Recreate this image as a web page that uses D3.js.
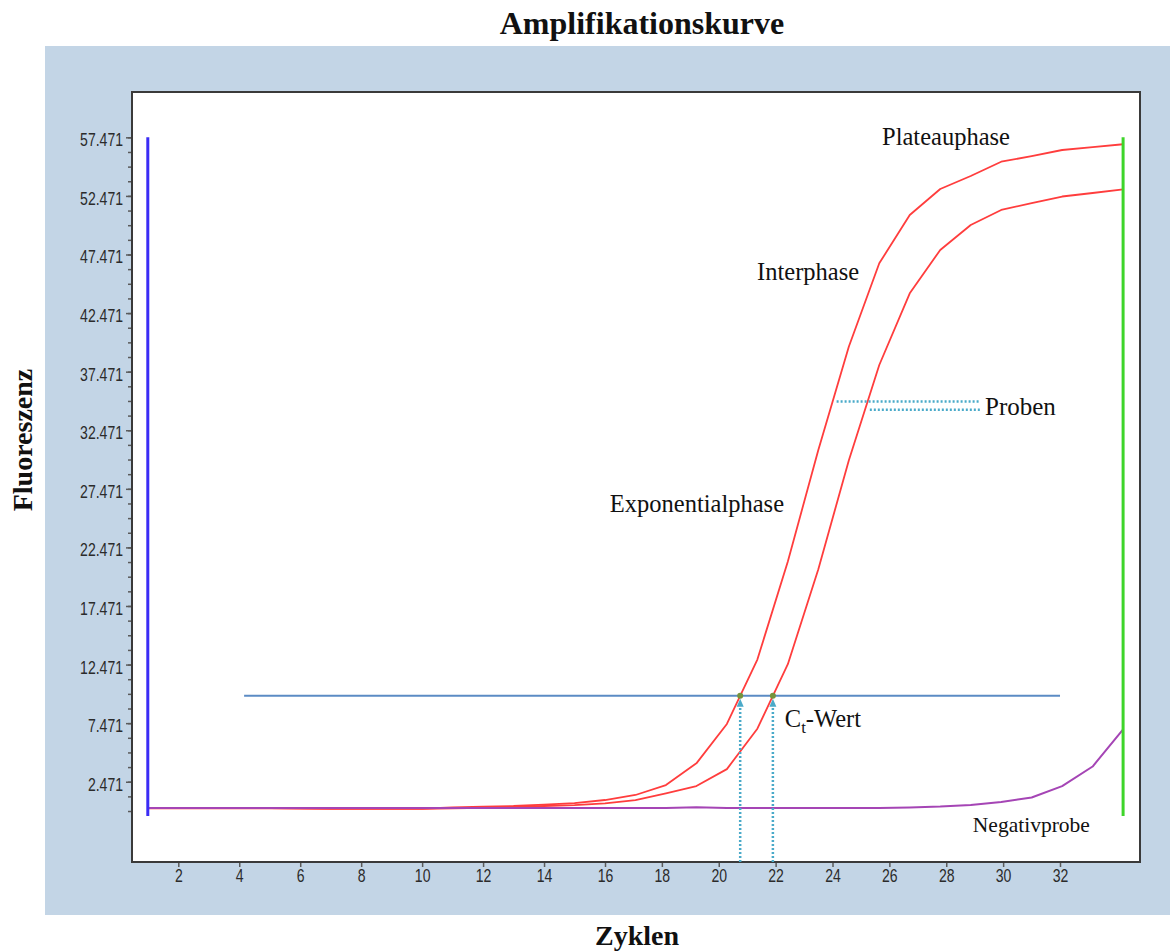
<!DOCTYPE html>
<html>
<head>
<meta charset="utf-8">
<script src="https://cdn.jsdelivr.net/npm/d3@7"></script>
<style>
  html, body { margin: 0; padding: 0; background: #ffffff; }
  svg { display: block; }
  .tick-label { font-family: "Liberation Sans", Arial, sans-serif; font-size: 18px; fill: #2b2b2b; }
  .serif { font-family: "Liberation Serif", "Times New Roman", serif; fill: #111111; }
</style>
</head>
<body>
<svg id="chart" width="1170" height="951"></svg>
<script>
// Cycle numbers of the run
const cycles = [1, 2, 3, 4, 5, 6, 7, 8, 9, 10, 11, 12, 13, 14, 15, 16, 17,
                18, 19, 20, 21, 22, 23, 24, 25, 26, 27, 28, 29, 30, 31, 32, 33];

// Fluorescence of the two samples and the negative control per cycle
const sampleA = [0.23, 0.23, 0.23, 0.23, 0.23, 0.20, 0.17, 0.17, 0.17, 0.17, 0.27,
                 0.35, 0.40, 0.52, 0.65, 0.91, 1.34, 2.19, 4.04, 7.40, 12.90, 21.27,
                 30.78, 39.60, 46.72, 50.84, 53.06, 54.17, 55.39, 55.87, 56.39, 56.64, 56.88];
const sampleB = [0.20, 0.20, 0.20, 0.20, 0.20, 0.17, 0.15, 0.15, 0.15, 0.15, 0.20,
                 0.25, 0.30, 0.40, 0.48, 0.63, 0.91, 1.48, 2.10, 3.55, 7.00, 12.50,
                 20.61, 29.89, 38.04, 44.16, 47.86, 49.99, 51.27, 51.86, 52.42, 52.72, 53.03];
const negative = [0.23, 0.23, 0.23, 0.23, 0.23, 0.23, 0.23, 0.23, 0.23, 0.23, 0.23,
                  0.23, 0.23, 0.23, 0.23, 0.23, 0.23, 0.23, 0.30, 0.22, 0.22, 0.22,
                  0.22, 0.22, 0.22, 0.28, 0.35, 0.48, 0.74, 1.12, 2.10, 3.77, 6.94];

// Threshold level and the cycle span it is drawn over
const threshold = 9.8;
const thresholdSpan = [4.16, 30.93];

// Start / end markers of the run (cycle) and their fluorescence extent
const runMarkers = [1, 33];
const markerExtent = [-0.46, 57.471];

// Axis ticks
const xTickValues = [2, 4, 6, 8, 10, 12, 14, 16, 18, 20, 22, 24, 26, 28, 30, 32];
const yTickValues = [2.471, 7.471, 12.471, 17.471, 22.471, 27.471, 32.471,
                     37.471, 42.471, 47.471, 52.471, 57.471];
const yMinorStep = 1.25;

// Annotations (cycle, fluorescence at text baseline)
const labelTexts = ["Plateauphase", "Interphase", "Exponentialphase", "Proben", "Negativprobe"];
const labelCycles = [25.09, 20.99, 16.16, 28.47, 28.07];
const labelValues = [56.81, 45.29, 25.52, 33.77, -1.80];
const ctLabelAnchor = [21.9, 7.11];

// Leader lines from the sample curves to the "Proben" label
const leaderStart = [23.6, 24.69];
const leaderEnd = [28.3, 28.3];
const leaderValues = [34.93, 34.22];

const svg = d3.select("#chart");

// Grey-blue panel behind the plot
svg.append("rect").attr("x", 45).attr("y", 46).attr("width", 1125).attr("height", 869)
  .attr("fill", "#c3d5e6");

const plot = { left: 132, right: 1140, top: 92, bottom: 862 };

svg.append("rect").attr("x", plot.left).attr("y", plot.top)
  .attr("width", plot.right - plot.left).attr("height", plot.bottom - plot.top)
  .attr("fill", "#ffffff");

// Scales: data cycles are evenly spaced; the printed cycle axis
// is compressed beyond cycle 16
const x = d3.scaleLinear().domain([1, 33]).range([147.8, 1123.1]);
const xAxisScale = d3.scaleLinear().domain([2, 16, 32]).range([178.3, 605, 1060]);
const y = d3.scaleLinear().domain([-4.38, 61.34]).range([plot.bottom, plot.top]);

const narrow = 0.78;

// Y axis: minor ticks then labelled ticks
const yMinor = d3.range(yTickValues[0] - 2 * yMinorStep, yTickValues[yTickValues.length - 1] + 0.01, yMinorStep);
const gyMinor = svg.append("g").attr("transform", `translate(${plot.left},0)`)
  .call(d3.axisLeft(y).tickValues(yMinor).tickSize(4).tickFormat(""));
gyMinor.select(".domain").remove();
gyMinor.selectAll("line").attr("stroke", "#5a5a5a").attr("stroke-width", 1.5);

const gy = svg.append("g").attr("transform", `translate(${plot.left},0)`)
  .call(d3.axisLeft(y).tickValues(yTickValues).tickSize(6).tickPadding(3)
    .tickFormat(d3.format(".3f")));
gy.select(".domain").remove();
gy.selectAll("line").attr("stroke", "#5a5a5a").attr("stroke-width", 1.5);
gy.selectAll("text").attr("class", "tick-label")
  .attr("x", 0).attr("dy", "0.47em")
  .attr("transform", `translate(-9,0) scale(${narrow},1)`);

// X axis
const gx = svg.append("g").attr("transform", `translate(0,${plot.bottom})`)
  .call(d3.axisBottom(xAxisScale).tickValues(xTickValues).tickSize(5).tickPadding(3));
gx.select(".domain").remove();
gx.selectAll("line").attr("stroke", "#5a5a5a").attr("stroke-width", 1.5);
gx.selectAll("text").attr("class", "tick-label").attr("dy", "0.68em")
  .attr("transform", `scale(${narrow},1)`);

// Plot frame
svg.append("rect").attr("x", plot.left).attr("y", plot.top)
  .attr("width", plot.right - plot.left).attr("height", plot.bottom - plot.top)
  .attr("fill", "none").attr("stroke", "#3a3a3a").attr("stroke-width", 2);

const line = d3.line().x((d, i) => x(cycles[i])).y(d => y(d));

// Sample curves
[sampleA, sampleB].forEach(series => {
  svg.append("path").datum(series).attr("d", line)
    .attr("fill", "none").attr("stroke", "#ff3d3d").attr("stroke-width", 1.8)
    .attr("stroke-linejoin", "round");
});

// Negative control
svg.append("path").datum(negative).attr("d", line)
  .attr("fill", "none").attr("stroke", "#a545b5").attr("stroke-width", 2)
  .attr("stroke-linejoin", "round");

// Start / end markers
const markerColors = ["#3b2cf5", "#3ed52a"];
runMarkers.forEach((c, i) => {
  svg.append("line").attr("x1", x(c)).attr("x2", x(c))
    .attr("y1", y(markerExtent[1])).attr("y2", y(markerExtent[0]))
    .attr("stroke", markerColors[i]).attr("stroke-width", 3);
});

// Threshold line
svg.append("line").attr("x1", x(thresholdSpan[0])).attr("x2", x(thresholdSpan[1]))
  .attr("y1", y(threshold)).attr("y2", y(threshold))
  .attr("stroke", "#5b8bc4").attr("stroke-width", 2);

// Ct: cycle where each sample crosses the threshold
function crossing(series) {
  for (let i = 1; i < series.length; i++) {
    if (series[i - 1] < threshold && series[i] >= threshold) {
      const t = (threshold - series[i - 1]) / (series[i] - series[i - 1]);
      return cycles[i - 1] + t * (cycles[i] - cycles[i - 1]);
    }
  }
  return null;
}
const ctValues = [crossing(sampleA), crossing(sampleB)];
const dotted = "#4aaac9";

ctValues.forEach(ct => {
  const cx = x(ct), cy = y(threshold);
  svg.append("line").attr("x1", cx).attr("x2", cx)
    .attr("y1", plot.bottom).attr("y2", cy + 9)
    .attr("stroke", dotted).attr("stroke-width", 2.5).attr("stroke-dasharray", "2,2");
  svg.append("path")
    .attr("d", `M${cx},${cy + 3} L${cx - 3.5},${cy + 11} L${cx + 3.5},${cy + 11} Z`)
    .attr("fill", dotted);
  svg.append("circle").attr("cx", cx).attr("cy", cy).attr("r", 3)
    .attr("fill", "#76933c");
});

// Leader lines to the "Proben" label
leaderValues.forEach((v, i) => {
  svg.append("line").attr("x1", x(leaderStart[i])).attr("x2", x(leaderEnd[i]))
    .attr("y1", y(v)).attr("y2", y(v))
    .attr("stroke", dotted).attr("stroke-width", 2.5).attr("stroke-dasharray", "2,2");
});

// Phase annotations
const labelSizes = [24.5, 24.5, 24.5, 25, 21.5];
labelTexts.forEach((t, i) => {
  svg.append("text").attr("class", "serif")
    .attr("x", x(labelCycles[i])).attr("y", y(labelValues[i]))
    .attr("font-size", labelSizes[i]).text(t);
});

// Ct label with subscript
const ct = svg.append("text").attr("class", "serif")
  .attr("x", x(ctLabelAnchor[0])).attr("y", y(ctLabelAnchor[1])).attr("font-size", 24.5);
ct.append("tspan").text("C");
ct.append("tspan").attr("font-size", 17).attr("dy", 6).text("t");
ct.append("tspan").attr("dy", -6).text("-Wert");

// Titles
svg.append("text").attr("class", "serif").attr("x", 642).attr("y", 34)
  .attr("text-anchor", "middle").attr("font-weight", "bold").attr("font-size", 32)
  .text("Amplifikationskurve");
svg.append("text").attr("class", "serif").attr("x", 637).attr("y", 945)
  .attr("text-anchor", "middle").attr("font-weight", "bold").attr("font-size", 28)
  .text("Zyklen");
svg.append("text").attr("class", "serif")
  .attr("transform", "translate(32,440) rotate(-90)")
  .attr("text-anchor", "middle").attr("font-weight", "bold").attr("font-size", 28)
  .text("Fluoreszenz");
</script>
</body>
</html>
